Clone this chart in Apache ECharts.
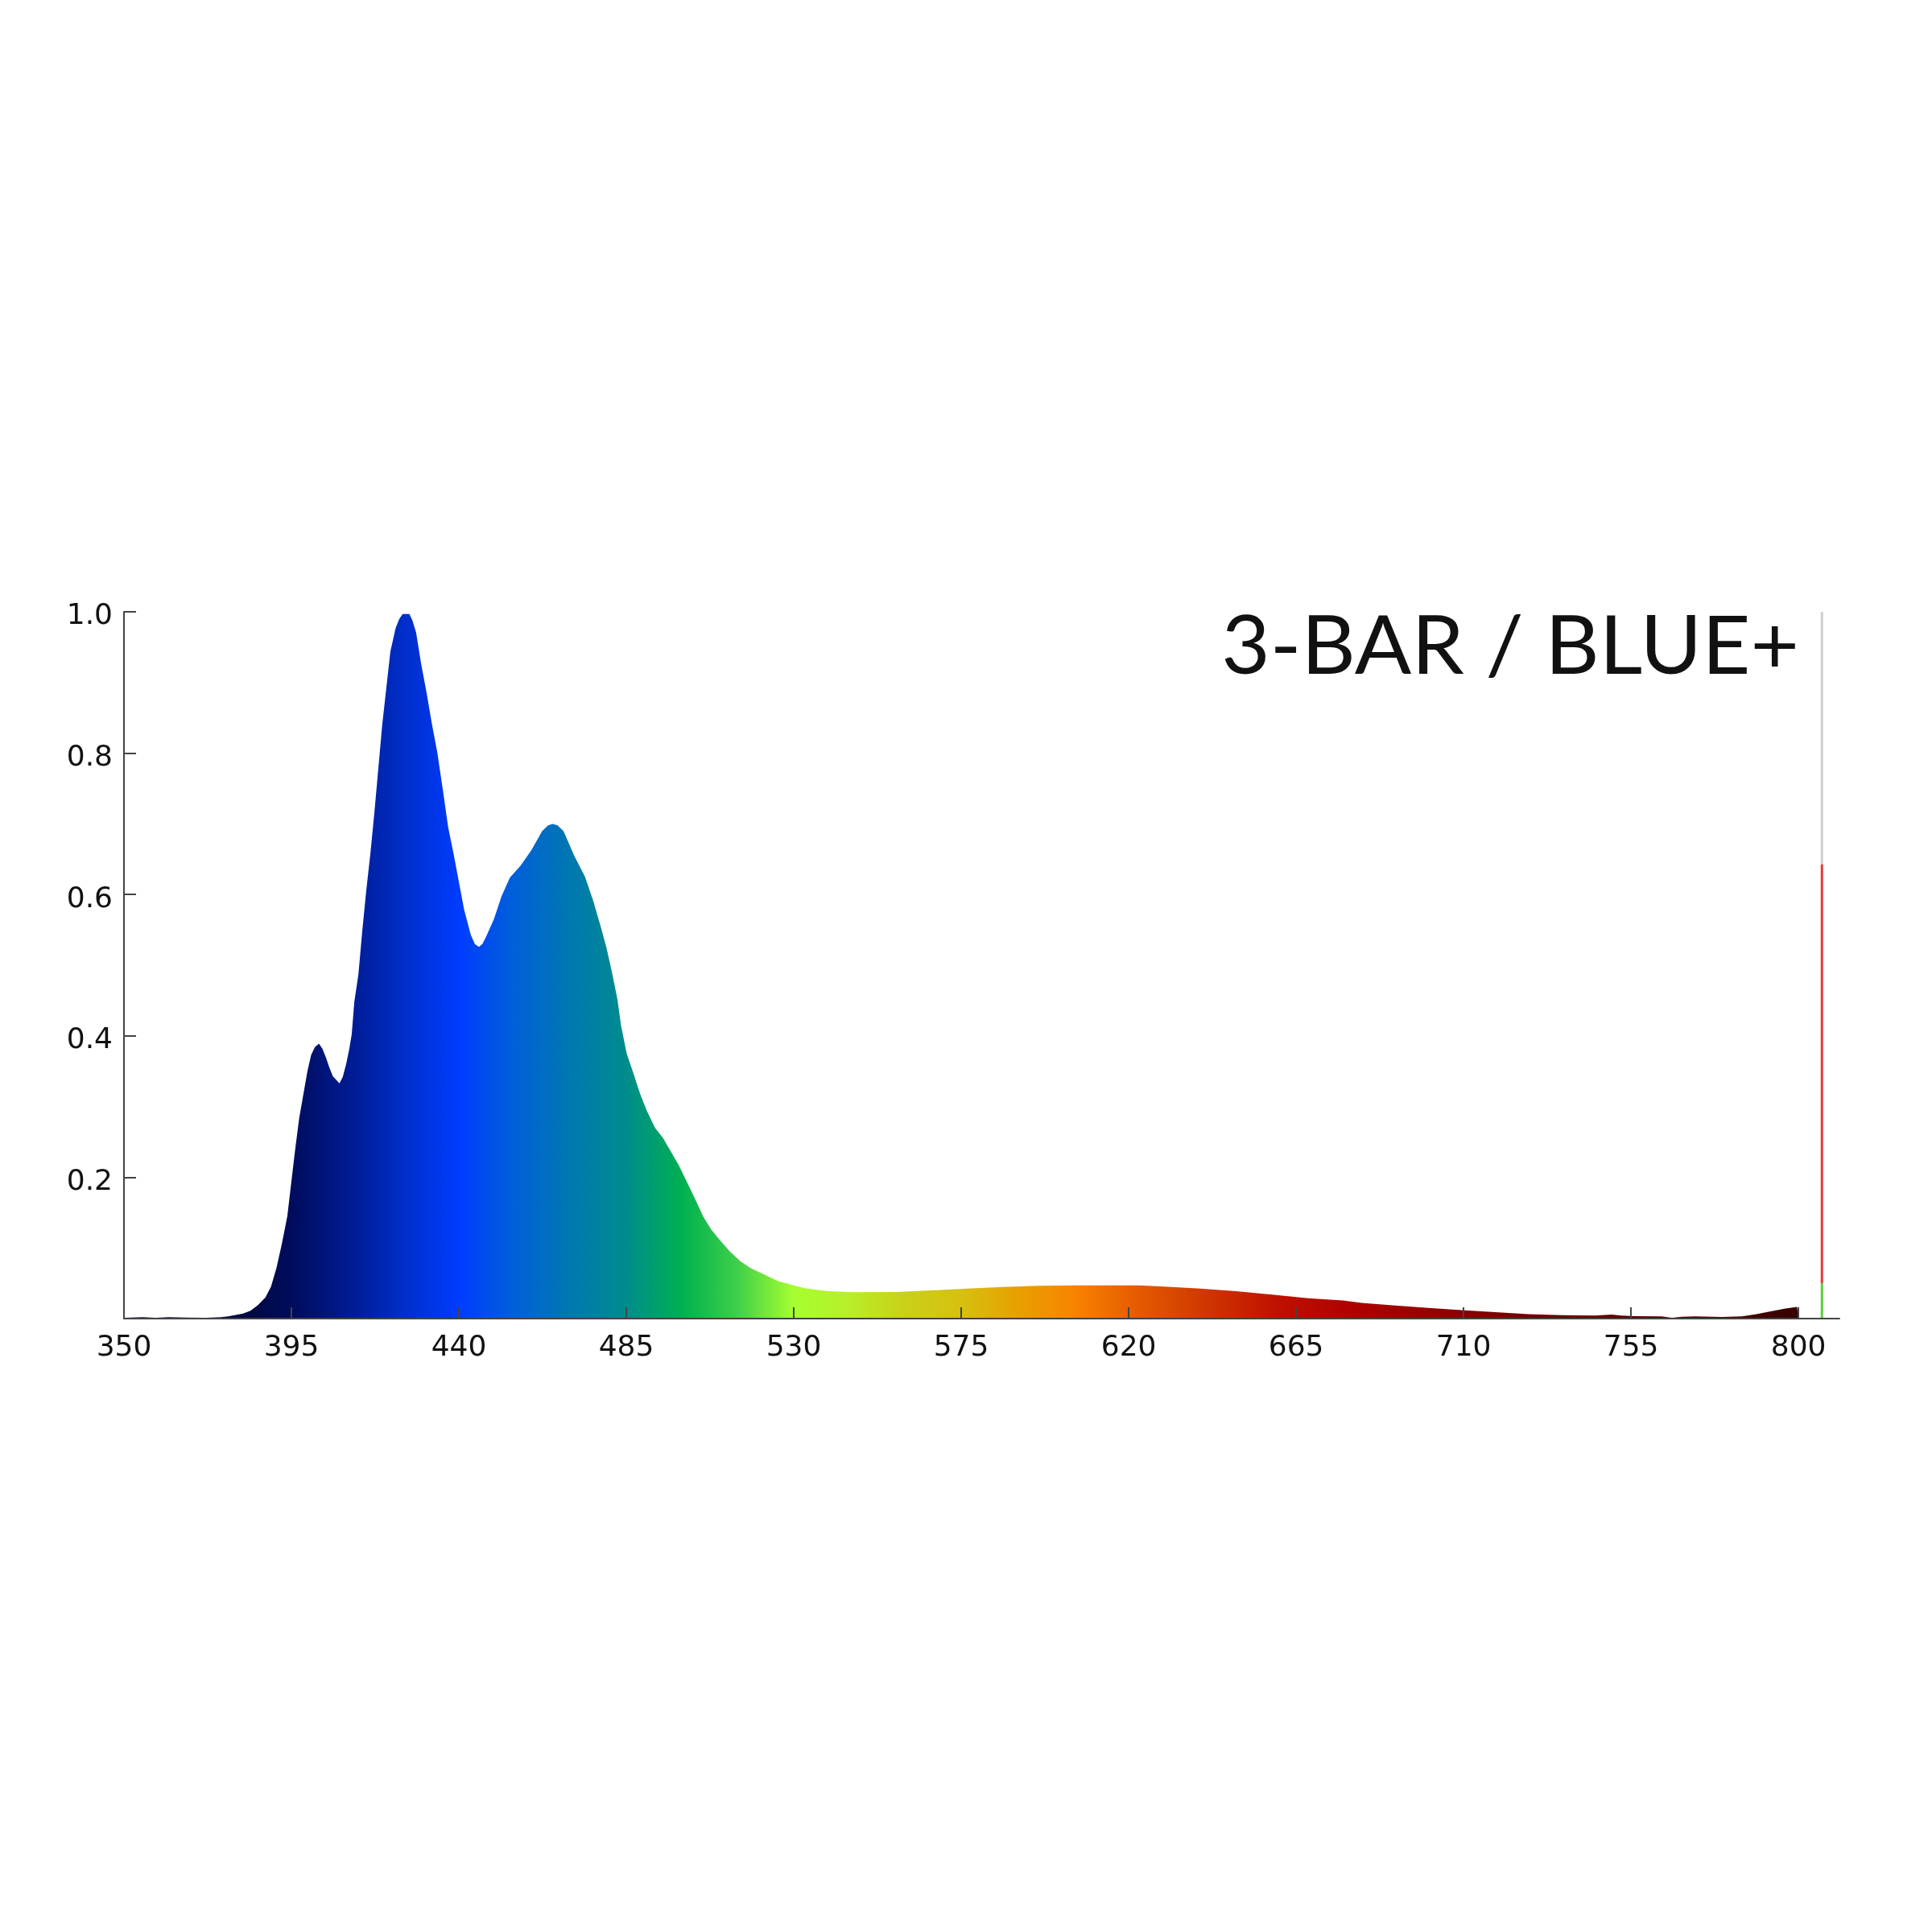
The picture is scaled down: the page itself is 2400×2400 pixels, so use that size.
<!DOCTYPE html>
<html>
<head>
<meta charset="utf-8">
<script src="https://cdn.jsdelivr.net/npm/echarts@6/dist/echarts.min.js"></script>
<style>
html,body{margin:0;padding:0;background:#fff;}
#chart{width:2400px;height:2400px;}
</style>
</head>
<body>
<div id="chart"></div>
<script>
// Wavelength (nm) and relative intensity
const wavelengths = [350,355,358.5,362,367,372,376,378,380,382,384,386,388,389.5,391,392.4,393.9,394.9,396,397.1,398.2,399.3,400.3,401.3,402.4,403.3,404.3,405.2,406.1,407.9,408.8,409.7,410.5,411.2,411.9,413,414,415.1,416.2,417.3,418.4,419.4,420.5,421.6,423,424,424.9,426.7,427.5,428.5,429.9,431.3,432.8,434.2,435.7,437.1,438.6,440,441.4,443.2,444.3,445.4,446.3,447.2,449.4,451.5,453.7,456.6,459.5,462.4,464,465.2,466.5,468.1,471,473.9,476.1,478.2,479.7,481.1,482.6,483.6,485.1,486.9,488.7,490.5,492.7,494.8,497,499.1,501.3,503.5,505.6,507.8,510,512.8,515.7,518.6,522.2,525.8,530,533,538.8,545.6,557.2,566.8,576.5,586.1,595.8,605.5,615.1,622.8,629.6,639.3,648.9,658.6,668.3,677.6,682.6,691.6,700.5,709.5,718.5,727.4,736.4,745.3,749.8,752.4,756.1,763.2,766,768.7,772.2,779.4,784.8,788.4,792,796.5,799.6,800];
const intensity = [0.001,0.002,0.001,0.002,0.0015,0.001,0.002,0.003,0.005,0.007,0.011,0.019,0.030,0.045,0.072,0.105,0.145,0.190,0.239,0.284,0.317,0.350,0.373,0.384,0.389,0.382,0.369,0.355,0.343,0.333,0.342,0.360,0.380,0.402,0.448,0.487,0.546,0.605,0.657,0.716,0.781,0.840,0.892,0.944,0.977,0.990,0.997,0.997,0.988,0.971,0.925,0.886,0.840,0.801,0.748,0.696,0.657,0.618,0.579,0.543,0.530,0.526,0.530,0.539,0.565,0.598,0.624,0.641,0.663,0.690,0.698,0.700,0.698,0.690,0.655,0.625,0.591,0.553,0.524,0.491,0.452,0.414,0.375,0.347,0.318,0.294,0.270,0.256,0.236,0.217,0.193,0.169,0.145,0.126,0.112,0.095,0.081,0.071,0.062,0.053,0.047,0.043,0.039,0.0373,0.0376,0.040,0.0425,0.0448,0.0463,0.047,0.047,0.047,0.0452,0.0425,0.0387,0.0338,0.0288,0.0255,0.0223,0.0185,0.0151,0.0121,0.0091,0.0064,0.0049,0.0042,0.0057,0.0042,0.0034,0.0030,0.0011,0.0027,0.003,0.0023,0.003,0.006,0.0098,0.0143,0.0166,0.0166];

// Spectrum colour along wavelength
const colorWavelengths = [350,385,395,410,425,440,455,470,485,500,515,530,545,560,575,590,605,620,640,660,680,700,730,760,800];
const colorValues = ['#000530','#000a45','#000c5c','#001a90','#002ec8','#003cff','#0060d8','#0078b0','#008c8c','#00b050','#40d048','#a6ff30','#b8ee28','#cad018','#d6c010','#e8a000','#f88400','#e86000','#d03800','#c01000','#b00000','#960000','#700000','#580000','#380000'];

// Indicator bar at right edge: segment boundaries (bottom to top) and colours
const indicatorX = 806.3;
const indicatorLevels = [0, 0.05, 0.643, 1.0];
const indicatorColors = ['#5ad03c', '#e53a3a', '#cfcfcf'];

const xTicks = [350,395,440,485,530,575,620,665,710,755,800];
const yTicks = [0.2,0.4,0.6,0.8,1.0];
const xMin = 350, xMax = 811;
const titleText = '3-BAR / BLUE+';

const spectrum = wavelengths.map((w, i) => [w, intensity[i]]);
const lo = wavelengths[0], hi = wavelengths[wavelengths.length - 1];
const stops = colorWavelengths.map((w, i) => ({offset: (w - lo) / (hi - lo), color: colorValues[i]}));

const chart = echarts.init(document.getElementById('chart'), null, {renderer: 'canvas'});
const axisColor = '#444';
const labelFont = {fontFamily: 'DejaVu Sans', fontSize: 36, color: '#111'};

const series = [{
  type: 'line',
  data: spectrum,
  showSymbol: false,
  symbol: 'none',
  lineStyle: {width: 0},
  areaStyle: {
    opacity: 1,
    color: new echarts.graphic.LinearGradient(0, 0, 1, 0, stops)
  },
  z: 2
}];
indicatorColors.forEach((c, i) => {
  series.push({
    type: 'line',
    data: [[indicatorX, indicatorLevels[i]], [indicatorX, indicatorLevels[i + 1]]],
    showSymbol: false,
    symbol: 'none',
    lineStyle: {color: c, width: 3, cap: 'butt'},
    z: 3
  });
});

chart.setOption({
  animation: false,
  backgroundColor: '#ffffff',
  grid: {left: 154, right: 115, top: 760, bottom: 762, containLabel: false},
  xAxis: {
    type: 'value',
    min: xMin,
    max: xMax,
    z: 10,
    splitLine: {show: false},
    axisLine: {show: true, lineStyle: {color: axisColor, width: 2}},
    axisTick: {show: true, inside: true, length: 14, customValues: xTicks, lineStyle: {color: axisColor, width: 2}},
    axisLabel: Object.assign({margin: 19, customValues: xTicks, formatter: v => String(v)}, labelFont)
  },
  yAxis: {
    type: 'value',
    min: 0,
    max: 1,
    z: 10,
    splitLine: {show: false},
    axisLine: {show: true, lineStyle: {color: axisColor, width: 2}},
    axisTick: {show: true, inside: true, length: 15, customValues: yTicks, lineStyle: {color: axisColor, width: 2}},
    axisLabel: Object.assign({margin: 14, verticalAlign: 'top', lineHeight: 12, customValues: yTicks, formatter: v => v.toFixed(1)}, labelFont)
  },
  series: series,
  graphic: [{
    type: 'text',
    x: 2235,
    y: 805,
    scaleX: 1.043,
    z: 20,
    style: {
      text: titleText,
      fontFamily: 'Lato',
      fontSize: 100,
      fontWeight: 400,
      fill: '#111',
      align: 'right',
      textAlign: 'right',
      verticalAlign: 'middle',
      textVerticalAlign: 'middle'
    }
  }]
});
</script>
</body>
</html>
